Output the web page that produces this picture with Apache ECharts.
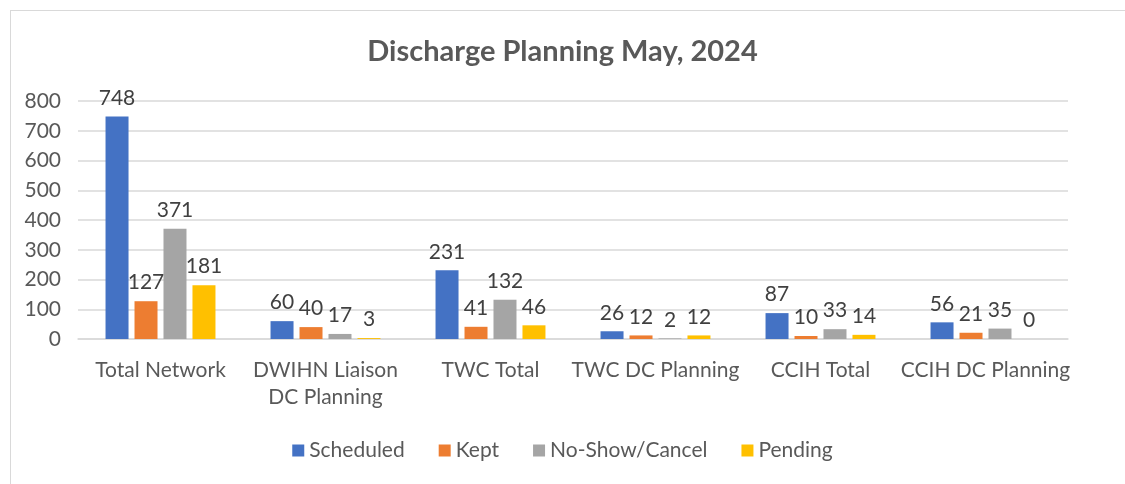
<!DOCTYPE html>
<html>
<head>
<meta charset="utf-8">
<script src="https://cdn.jsdelivr.net/npm/echarts@6/dist/echarts.min.js"></script>
<style>
  html, body { margin: 0; padding: 0; background: #fff; }
  #wrap { position: relative; width: 1125px; height: 484px; overflow: hidden; }
  #frame { position: absolute; left: 10px; top: 10px; width: 1300px; height: 700px; border: 1px solid #d9d9d9; box-sizing: border-box; }
  #chart { position: absolute; left: 0; top: 0; width: 1125px; height: 484px; }
</style>
</head>
<body>
<div id="wrap">
  <div id="frame"></div>
  <div id="chart"></div>
</div>
<script>
// categories and series values
const categories = ['Total Network', 'DWIHN Liaison\nDC Planning', 'TWC Total', 'TWC DC Planning', 'CCIH Total', 'CCIH DC Planning'];
const scheduled = [748, 60, 231, 26, 87, 56];
const kept = [127, 40, 41, 12, 10, 21];
const noShowCancel = [371, 17, 132, 2, 33, 35];
const pending = [181, 3, 46, 12, 14, 0];
const seriesNames = ['Scheduled', 'Kept', 'No-Show/Cancel', 'Pending'];
const colors = ['#4472C4', '#ED7D31', '#A5A5A5', '#FFC000'];

const font = 'Lato, "Open Sans", sans-serif';
const chart = echarts.init(document.getElementById('chart'));

const makeSeries = (name, data) => ({
  name: name,
  type: 'bar',
  data: data,
  barWidth: 23,
  barGap: '26%',
  label: {
    show: true,
    position: 'top',
    distance: 8,
    color: '#404040',
    fontFamily: font,
    fontSize: 21
  }
});

const option = {
  animation: false,
  color: colors,
  title: {
    text: 'Discharge Planning May, 2024',
    left: 'center',
    top: 32,
    textStyle: { color: '#595959', fontFamily: font, fontSize: 29, fontWeight: 'bold' }
  },
  legend: {
    bottom: 18,
    left: 'center',
    itemWidth: 12,
    itemHeight: 12,
    itemGap: 34,
    icon: 'rect',
    textStyle: { color: '#595959', fontFamily: font, fontSize: 21 }
  },
  grid: { left: 78, right: 57, top: 101, bottom: 145 },
  xAxis: {
    type: 'category',
    data: categories,
    axisLine: { lineStyle: { color: '#d9d9d9', width: 1.5 } },
    axisTick: { show: false },
    axisLabel: { color: '#595959', fontFamily: font, fontSize: 21, margin: 18, lineHeight: 27, interval: 0 }
  },
  yAxis: {
    type: 'value',
    min: 0,
    max: 800,
    interval: 100,
    axisLine: { show: false },
    axisTick: { show: false },
    axisLabel: { color: '#595959', fontFamily: font, fontSize: 21, margin: 17 },
    splitLine: { lineStyle: { color: '#d9d9d9', width: 1.5 } }
  },
  series: [
    makeSeries(seriesNames[0], scheduled),
    makeSeries(seriesNames[1], kept),
    makeSeries(seriesNames[2], noShowCancel),
    makeSeries(seriesNames[3], pending)
  ]
};

chart.setOption(option);
</script>
</body>
</html>
